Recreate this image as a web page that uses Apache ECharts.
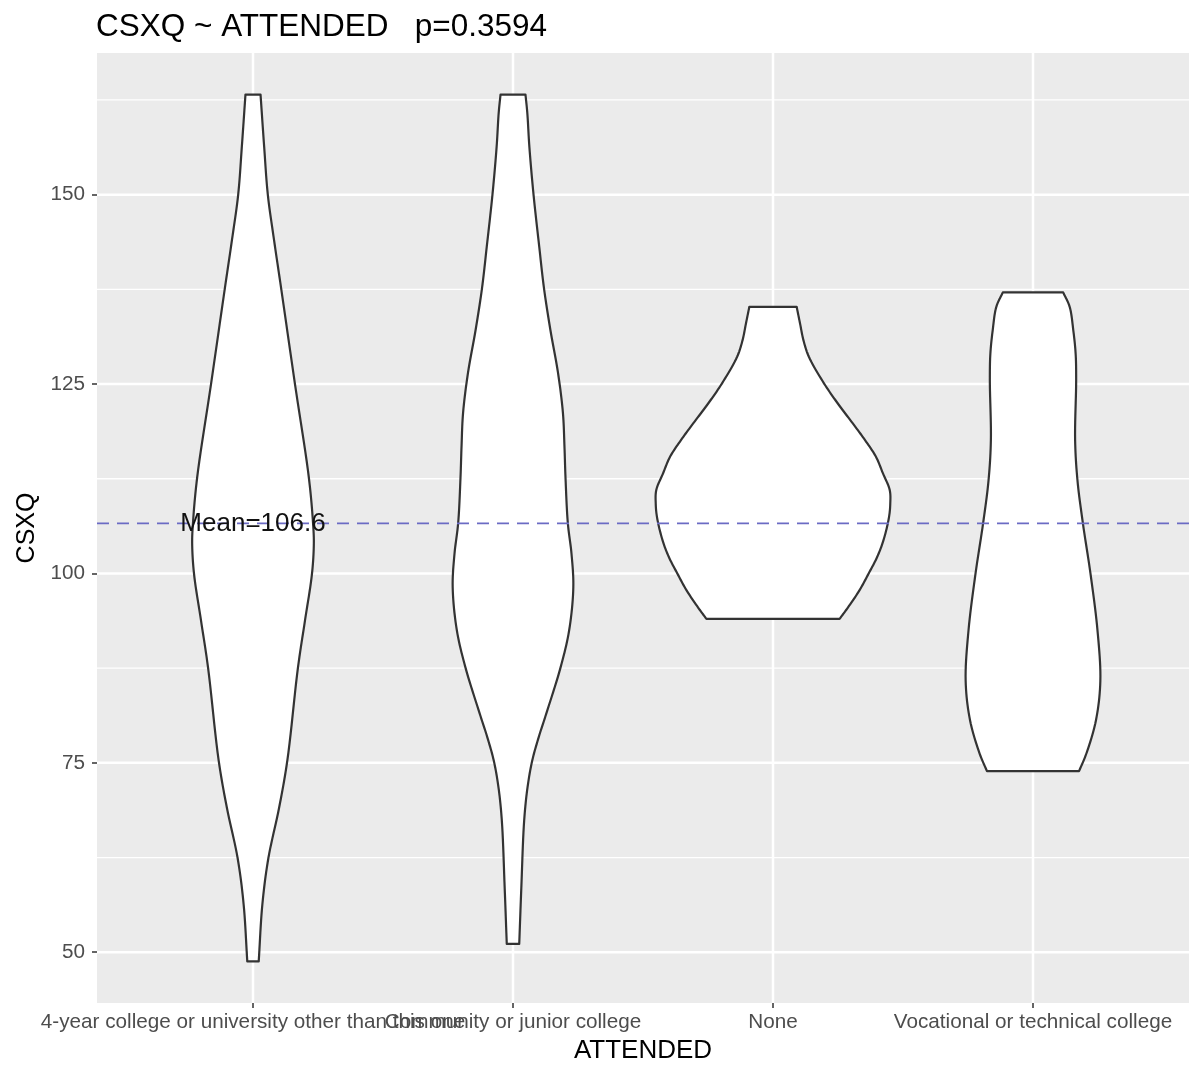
<!DOCTYPE html>
<html>
<head>
<meta charset="utf-8">
<script src="https://cdn.jsdelivr.net/npm/echarts@6/dist/echarts.min.js"></script>
<style>
  html, body { margin: 0; padding: 0; background: #ffffff; }
  #chart { width: 1193px; height: 1078px; }
</style>
</head>
<body>
<div id="chart"></div>
<script>
// Groups on the x axis (positions 1..4)
const categories = [
  '4-year college or university other than this one',
  'Community or junior college',
  'None',
  'Vocational or technical college'
];

const meanValue = 106.6;
const pValue = '0.3594';

const yTicks = [50, 75, 100, 125, 150];
const yMinorTicks = [62.5, 87.5, 112.5, 137.5, 162.5];

// Violin outlines, top to bottom: [CSXQ, half width in group units]
const violin4yr = [
  [163.2, 0.029], [156.3, 0.043], [150.0, 0.057], [144.0, 0.081],
  [137.7, 0.108], [125.1, 0.161], [112.6, 0.215], [106.6, 0.231],
  [104.0, 0.234], [100.0, 0.227], [93.8, 0.200], [87.6, 0.173],
  [75.3, 0.132], [69.0, 0.100], [62.4, 0.059], [56.3, 0.036], [48.8, 0.022]
];
const violinCommunity = [
  [163.2, 0.048], [160.8, 0.055], [156.3, 0.063], [150.0, 0.079],
  [143.1, 0.101], [137.7, 0.119], [132.1, 0.144], [126.5, 0.173],
  [121.2, 0.192], [116.7, 0.198], [112.6, 0.202], [106.6, 0.211],
  [102.6, 0.225], [98.2, 0.232], [92.5, 0.216], [87.6, 0.183],
  [81.5, 0.128], [78.4, 0.099], [75.3, 0.074], [71.8, 0.056],
  [67.4, 0.043], [58.5, 0.032], [51.1, 0.024]
];
const violinNone = [
  [135.2, 0.091], [133.0, 0.104], [130.8, 0.117], [128.6, 0.138],
  [125.1, 0.196], [122.4, 0.250], [119.8, 0.307], [117.6, 0.354],
  [115.4, 0.396], [113.2, 0.423], [111.0, 0.449], [109.2, 0.451],
  [107.4, 0.446], [104.4, 0.425], [102.2, 0.401], [100.0, 0.368],
  [97.8, 0.333], [95.5, 0.288], [94.0, 0.256]
];
const violinVocational = [
  [137.1, 0.116], [135.2, 0.141], [132.1, 0.155], [129.0, 0.164],
  [125.5, 0.166], [117.6, 0.162], [112.3, 0.171],
  [106.6, 0.192], [100.0, 0.221], [92.5, 0.248], [85.8, 0.259],
  [80.6, 0.242], [76.2, 0.205], [73.9, 0.177]
];

const profiles = [violin4yr, violinCommunity, violinNone, violinVocational];

const FONT = '"Liberation Sans", Arial, sans-serif';
const chart = echarts.init(document.getElementById('chart'), null, { renderer: 'canvas' });

// Centripetal Catmull-Rom curve through one side of a violin outline (pixel points)
function smoothSide(pts, steps) {
  const n = pts.length;
  const ext = [
    [2 * pts[0][0] - pts[1][0], 2 * pts[0][1] - pts[1][1]],
    ...pts,
    [2 * pts[n - 1][0] - pts[n - 2][0], 2 * pts[n - 1][1] - pts[n - 2][1]]
  ];
  const knot = (ti, a, b) => ti + Math.pow(Math.hypot(b[0] - a[0], b[1] - a[1]), 0.5) + 1e-6;
  const lerp = (a, b, ta, tb, t) => [
    (tb - t) / (tb - ta) * a[0] + (t - ta) / (tb - ta) * b[0],
    (tb - t) / (tb - ta) * a[1] + (t - ta) / (tb - ta) * b[1]
  ];
  const out = [];
  for (let k = 1; k < ext.length - 2; k++) {
    const p0 = ext[k - 1], p1 = ext[k], p2 = ext[k + 1], p3 = ext[k + 2];
    const t0 = 0, t1 = knot(t0, p0, p1), t2 = knot(t1, p1, p2), t3 = knot(t2, p2, p3);
    for (let s = 0; s < steps; s++) {
      const t = t1 + (t2 - t1) * s / steps;
      const a1 = lerp(p0, p1, t0, t1, t), a2 = lerp(p1, p2, t1, t2, t), a3 = lerp(p2, p3, t2, t3, t);
      const b1 = lerp(a1, a2, t0, t2, t), b2 = lerp(a2, a3, t1, t3, t);
      out.push(lerp(b1, b2, t1, t2, t));
    }
  }
  out.push(pts[n - 1]);
  return out;
}

function hLine(params, api, value, width) {
  const cs = params.coordSys;
  const y = api.coord([1, value])[1];
  return { type: 'line', shape: { x1: cs.x, y1: y, x2: cs.x + cs.width, y2: y },
           style: { stroke: '#ffffff', lineWidth: width } };
}

const labelStyle = { color: '#4D4D4D', fontFamily: FONT, fontSize: 20.7, margin: 9 };

const option = {
  backgroundColor: '#ffffff',
  animation: false,
  title: {
    text: 'CSXQ ~ ATTENDED   p=' + pValue,
    left: 91,
    top: 6,
    textStyle: { fontFamily: FONT, fontSize: 31.5, fontWeight: 'normal', color: '#000000' }
  },
  grid: {
    left: 97, right: 4, top: 53, bottom: 75,
    show: true, backgroundColor: '#EBEBEB', borderWidth: 0
  },
  xAxis: [
    {
      type: 'value',
      min: 0.4,
      max: 4.6,
      axisLine: { show: false },
      splitLine: { show: false },
      axisTick: { show: true, length: 5, customValues: [1, 2, 3, 4],
                  lineStyle: { color: '#333333', width: 1.5 } },
      axisLabel: Object.assign({
        customValues: [1, 3, 4],
        hideOverlap: false,
        formatter: v => categories[Math.round(v) - 1]
      }, labelStyle),
      name: 'ATTENDED',
      nameLocation: 'middle',
      nameGap: 33,
      nameTextStyle: { fontFamily: FONT, fontSize: 26, color: '#000000' }
    },
    {
      // second label row on the same scale, so the long neighbouring labels both print
      type: 'value',
      position: 'bottom',
      min: 0.4,
      max: 4.6,
      axisLine: { show: false },
      splitLine: { show: false },
      axisTick: { show: false },
      axisLabel: Object.assign({
        customValues: [2],
        hideOverlap: false,
        formatter: v => categories[Math.round(v) - 1]
      }, labelStyle)
    }
  ],
  yAxis: {
    type: 'value',
    min: 43.3,
    max: 168.7,
    axisLine: { show: false },
    splitLine: { show: false },
    axisTick: { show: true, length: 5, customValues: yTicks,
                lineStyle: { color: '#333333', width: 1.5 } },
    axisLabel: {
      customValues: yTicks,
      color: '#4D4D4D', fontFamily: FONT, fontSize: 20.7, margin: 12
    },
    name: 'CSXQ',
    nameLocation: 'middle',
    nameRotate: 90,
    nameGap: 53,
    nameTextStyle: { fontFamily: FONT, fontSize: 25, color: '#000000' }
  },
  series: [
    // panel grid lines
    {
      type: 'custom',
      z: 1,
      silent: true,
      data: [[0]],
      renderItem: (params, api) => {
        const cs = params.coordSys;
        const children = [];
        yMinorTicks.forEach(v => children.push(hLine(params, api, v, 1.3)));
        yTicks.forEach(v => children.push(hLine(params, api, v, 2.5)));
        [1, 2, 3, 4].forEach(i => {
          const x = api.coord([i, 100])[0];
          children.push({ type: 'line', shape: { x1: x, y1: cs.y, x2: x, y2: cs.y + cs.height },
                          style: { stroke: '#ffffff', lineWidth: 2.5 } });
        });
        return { type: 'group', children };
      }
    },
    // violins
    {
      type: 'custom',
      z: 2,
      silent: true,
      data: [[1], [2], [3], [4]],
      renderItem: (params, api) => {
        const i = api.value(0);
        const prof = profiles[i - 1];
        const right = smoothSide(prof.map(([v, w]) => api.coord([i + w, v])), 10);
        const left = smoothSide(prof.slice().reverse().map(([v, w]) => api.coord([i - w, v])), 10);
        return {
          type: 'polygon',
          shape: { points: right.concat(left) },
          style: { fill: '#ffffff', stroke: '#333333', lineWidth: 2.2, lineJoin: 'round' }
        };
      }
    },
    // overall mean line and its label
    {
      type: 'custom',
      z: 3,
      silent: true,
      data: [[meanValue]],
      renderItem: (params, api) => {
        const cs = params.coordSys;
        const m = api.value(0);
        const p = api.coord([1, m]);
        return {
          type: 'group',
          children: [
            { type: 'line', shape: { x1: cs.x, y1: p[1], x2: cs.x + cs.width, y2: p[1] },
              style: { stroke: '#6b6bc4', lineWidth: 1.8, lineDash: [12, 8] } },
            { type: 'text', x: p[0], y: p[1],
              style: { text: 'Mean=' + m, fill: '#111111', font: '26px ' + FONT,
                       textAlign: 'center', textVerticalAlign: 'middle' } }
          ]
        };
      }
    }
  ]
};

chart.setOption(option);
</script>
</body>
</html>
